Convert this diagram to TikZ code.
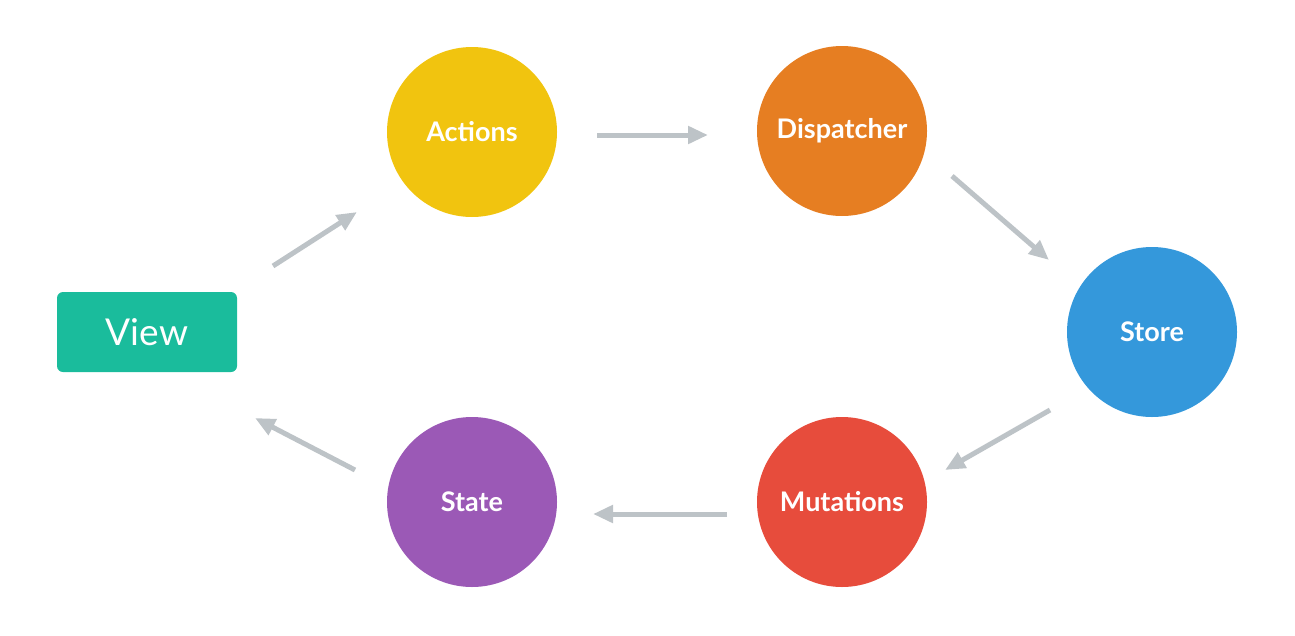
\documentclass[tikz,border=0pt]{standalone}
\usepackage{fontspec}
\setmainfont{Lato}
\usetikzlibrary{arrows.meta}
\definecolor{cview}{HTML}{1ABC9C}
\definecolor{cact}{HTML}{F1C40F}
\definecolor{cdisp}{HTML}{E67E22}
\definecolor{cstore}{HTML}{3498DB}
\definecolor{cmut}{HTML}{E74C3C}
\definecolor{cstate}{HTML}{9B59B6}
\definecolor{carrow}{HTML}{BDC3C7}
\begin{document}
\begin{tikzpicture}[x=1pt,y=-1pt,
  ball/.style={circle,minimum size=170pt,inner sep=0pt,text=white,font=\fontsize{27}{30}\selectfont\bfseries},
  viewbox/.style={rounded corners=6pt,minimum width=180pt,minimum height=80pt,inner sep=0pt,text=white,font=\fontsize{37}{40}\selectfont},
  flow/.style={draw=carrow,line width=5pt,-{Triangle[length=20pt,width=17pt]}}]
\useasboundingbox (0,0) rectangle (1295,635);
\node[viewbox,fill=cview] (view) at (147,332) {View};
\node[ball,fill=cact] (act) at (472,132) {Actions};
\node[ball,fill=cdisp] (disp) at (842,131) {Dispatcher};
\node[ball,fill=cstore] (store) at (1152,332) {Store};
\node[ball,fill=cmut] (mut) at (842,502) {Mutations};
\node[ball,fill=cstate] (state) at (472,502) {State};
\coordinate (e1s) at (273,266); \coordinate (e1e) at (357,212);
\coordinate (e2s) at (597,135); \coordinate (e2e) at (708,135);
\coordinate (e3s) at (952,176); \coordinate (e3e) at (1049,260);
\coordinate (e4s) at (1050,410); \coordinate (e4e) at (945,470);
\coordinate (e5s) at (727,514); \coordinate (e5e) at (593,514);
\coordinate (e6s) at (355,470); \coordinate (e6e) at (255,418);
\draw[flow] (e1s) -- (e1e);
\draw[flow] (e2s) -- (e2e);
\draw[flow] (e3s) -- (e3e);
\draw[flow] (e4s) -- (e4e);
\draw[flow] (e5s) -- (e5e);
\draw[flow] (e6s) -- (e6e);
\end{tikzpicture}
\end{document}
